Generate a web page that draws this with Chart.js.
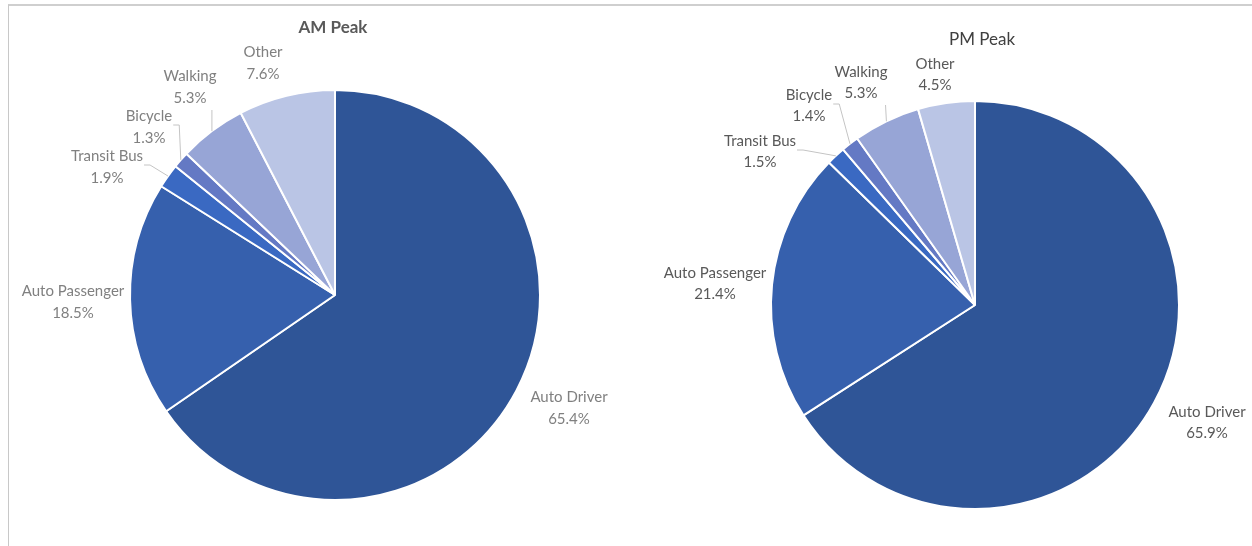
<!DOCTYPE html>
<html>
<head>
<meta charset="utf-8">
<title>AM / PM Peak Mode Share</title>
<script src="https://cdn.jsdelivr.net/npm/chart.js@4.4.1/dist/chart.umd.min.js"></script>
<style>
    html, body { margin: 0; padding: 0; background: #fff; }
    #page { position: relative; width: 1252px; height: 546px; overflow: hidden; }
    #frame {
        position: absolute; left: 8px; top: 4px; right: -2px; bottom: -2px;
        border-top: 2px solid #cfcfcf; border-left: 1px solid #c8c8c8;
    }
    .pie { position: absolute; top: 0; width: 626px; height: 546px; }
    #amBox { left: 0; }
    #pmBox { left: 626px; }
</style>
</head>
<body>
<div id="page">
    <div id="frame"></div>
    <div class="pie" id="amBox"><canvas id="amChart" width="626" height="546"></canvas></div>
    <div class="pie" id="pmBox"><canvas id="pmChart" width="626" height="546"></canvas></div>
</div>

<script>
/* ---------- Data ---------- */
const categories = ['Auto Driver', 'Auto Passenger', 'Transit Bus', 'Bicycle', 'Walking', 'Other'];
const amValues = [65.4, 18.5, 1.9, 1.3, 5.3, 7.6];
const pmValues = [65.9, 21.4, 1.5, 1.4, 5.3, 4.5];
const chartTitles = ['AM Peak', 'PM Peak'];

/* ---------- Styling ---------- */
const sliceColors = ['#2f5597', '#3660ad', '#3a69c2', '#6479c4', '#97a5d6', '#bac5e5'];

// label centres, relative to the pie centre (px)
const amLabelOffsets = [[234, 113], [-262, 7], [-228, -128], [-186, -168], [-145, -208], [-72, -232]];
const pmLabelOffsets = [[232, 118], [-260, -21], [-215, -153], [-166, -199], [-114, -222], [-40, -230]];
// leader line mode per slice: null, 'bottom' or 'side'
const leaderModes = [null, null, 'side', 'side', 'bottom', null];

const sliceLabels = {
    id: 'sliceLabels',
    afterDatasetsDraw(chart, args, opts) {
        const ctx = chart.ctx;
        const arcs = chart.getDatasetMeta(0).data;
        const values = chart.data.datasets[0].data;
        ctx.save();

        arcs.forEach((arc, i) => {
            const p = arc.getProps(['x', 'y', 'startAngle', 'endAngle', 'outerRadius'], true);
            const mid = (p.startAngle + p.endAngle) / 2;
            const cx = p.x + opts.offsets[i][0];
            const cy = p.y + opts.offsets[i][1];
            const lines = [chart.data.labels[i], values[i].toFixed(1) + '%'];
            const lh = opts.lineHeight;

            ctx.font = opts.font;
            ctx.fillStyle = opts.color;
            ctx.textAlign = 'center';
            ctx.textBaseline = 'middle';
            ctx.fillText(lines[0], cx, cy - lh / 2);
            ctx.fillText(lines[1], cx, cy + lh / 2);

            const mode = leaderModes[i];
            if (!mode) return;
            const ex = p.x + Math.cos(mid) * p.outerRadius;
            const ey = p.y + Math.sin(mid) * p.outerRadius;
            const w = Math.max(ctx.measureText(lines[0]).width, ctx.measureText(lines[1]).width);

            ctx.strokeStyle = '#c4c4c4';
            ctx.lineWidth = 1;
            ctx.beginPath();
            if (mode === 'bottom') {
                const sx = Math.min(ex, cx + w / 2 - 2);
                ctx.moveTo(sx, cy + lh + 1);
                ctx.lineTo(ex, ey);
            } else {
                const sx = cx + w / 2 + 1;
                const sy = cy - 2;
                ctx.moveTo(sx, sy);
                ctx.lineTo(sx + 6, sy);
                ctx.lineTo(ex, ey);
            }
            ctx.stroke();
        });

        // chart title
        ctx.font = opts.titleFont;
        ctx.fillStyle = opts.titleColor;
        ctx.textAlign = 'center';
        ctx.textBaseline = 'middle';
        const c = arcs[0];
        ctx.fillText(opts.title, c.x + opts.titleOffset[0], c.y + opts.titleOffset[1]);
        ctx.restore();
    }
};

function buildPie(canvasId, values, padding, radius, labelOpts) {
    const ctx = document.getElementById(canvasId).getContext('2d');
    return new Chart(ctx, {
        type: 'pie',
        data: {
            labels: categories,
            datasets: [{
                data: values,
                backgroundColor: sliceColors,
                borderColor: '#ffffff',
                borderWidth: 2
            }]
        },
        options: {
            responsive: false,
            animation: false,
            radius: radius,
            layout: { padding: padding },
            plugins: {
                legend: { display: false },
                tooltip: { enabled: false },
                sliceLabels: labelOpts
            }
        },
        plugins: [sliceLabels]
    });
}

document.addEventListener('DOMContentLoaded', () => {
    buildPie('amChart', amValues, { left: 130, right: 86, top: 90, bottom: 46 }, 205, {
        offsets: amLabelOffsets,
        font: '15px Lato, "DejaVu Sans", sans-serif',
        color: '#808080',
        lineHeight: 22,
        title: chartTitles[0],
        titleFont: 'bold 17px Lato, "DejaVu Sans", sans-serif',
        titleColor: '#595959',
        titleOffset: [-2, -267]
    });

    buildPie('pmChart', pmValues, { left: 145, right: 73, top: 101, bottom: 37 }, 204, {
        offsets: pmLabelOffsets,
        font: '15px Lato, "DejaVu Sans", sans-serif',
        color: '#595959',
        lineHeight: 21,
        title: chartTitles[1],
        titleFont: '17px Lato, "DejaVu Sans", sans-serif',
        titleColor: '#404040',
        titleOffset: [7, -265]
    });
});
</script>
</body>
</html>
